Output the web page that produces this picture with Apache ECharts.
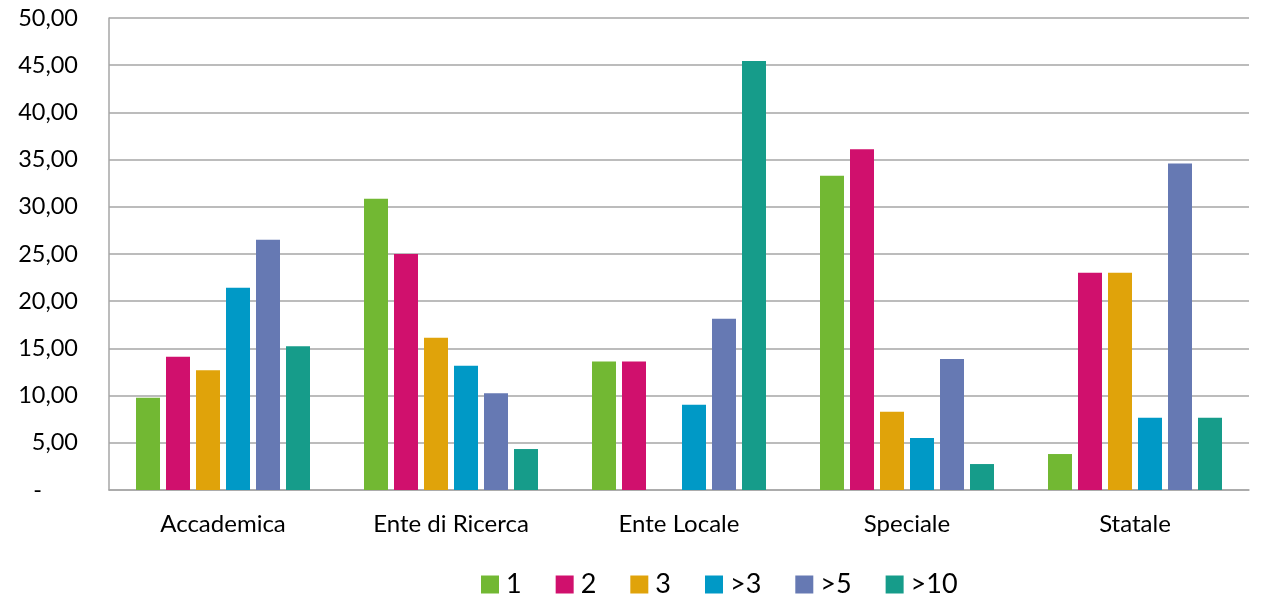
<!DOCTYPE html>
<html>
<head>
<meta charset="utf-8">
<script src="https://cdn.jsdelivr.net/npm/echarts@6/dist/echarts.min.js"></script>
<style>
html,body{margin:0;padding:0;background:#fff;}
#chart{width:1266px;height:599px;}
</style>
</head>
<body>
<div id="chart"></div>
<script>
const categories = ['Accademica', 'Ente di Ricerca', 'Ente Locale', 'Speciale', 'Statale'];
const seriesNames = ['1', '2', '3', '>3', '>5', '>10'];
const s1   = [9.78, 30.86, 13.60, 33.30, 3.81];
const s2   = [14.12, 25.00, 13.60, 36.09, 23.02];
const s3   = [12.68, 16.14, 0, 8.30, 23.02];
const sGt3 = [21.43, 13.17, 9.04, 5.51, 7.66];
const sGt5 = [26.52, 10.24, 18.15, 13.88, 34.60];
const sGt10 = [15.22, 4.34, 45.45, 2.75, 7.66];
const yTicks = { min: 0, max: 50, interval: 5 };
const colors = ['#72B833', '#D0106D', '#E0A30A', '#0099C6', '#6679B3', '#169C8A'];

const allData = [s1, s2, s3, sGt3, sGt5, sGt10];
const FONT = 'Lato';

const chart = echarts.init(document.getElementById('chart'));
chart.setOption({
  animation: false,
  color: colors,
  textStyle: { fontFamily: FONT },
  grid: { left: 109, right: 17, top: 18, bottom: 109, containLabel: false },
  legend: {
    top: 571,
    left: 481,
    padding: 0,
    itemWidth: 18,
    itemHeight: 18,
    itemGap: 34,
    icon: 'rect',
    textStyle: { fontFamily: FONT, fontSize: 27, color: '#000', padding: [0, 0, 0, 2] },
    data: seriesNames
  },
  xAxis: {
    type: 'category',
    data: categories,
    axisLine: { show: true, lineStyle: { color: '#A6A6A6', width: 1.5 } },
    axisTick: { show: false },
    axisLabel: { fontFamily: FONT, fontSize: 24, color: '#000', margin: 22 },
    splitLine: { show: false }
  },
  yAxis: {
    type: 'value',
    min: yTicks.min,
    max: yTicks.max,
    interval: yTicks.interval,
    axisLine: { show: true, lineStyle: { color: '#A6A6A6', width: 1.5 } },
    axisTick: { show: false },
    axisLabel: {
      fontFamily: FONT, fontSize: 23.5, color: '#000', margin: 31,
      formatter: function (v) { return v === 0 ? '-      ' : v.toFixed(2).replace('.', ','); }
    },
    splitLine: { show: true, lineStyle: { color: '#A6A6A6', width: 1.5 } }
  },
  series: seriesNames.map(function (name, i) {
    return {
      name: name,
      type: 'bar',
      data: allData[i],
      barWidth: 24,
      barGap: '25%',
      barCategoryGap: '23.7%',
      itemStyle: { color: colors[i] }
    };
  })
});
</script>
</body>
</html>
